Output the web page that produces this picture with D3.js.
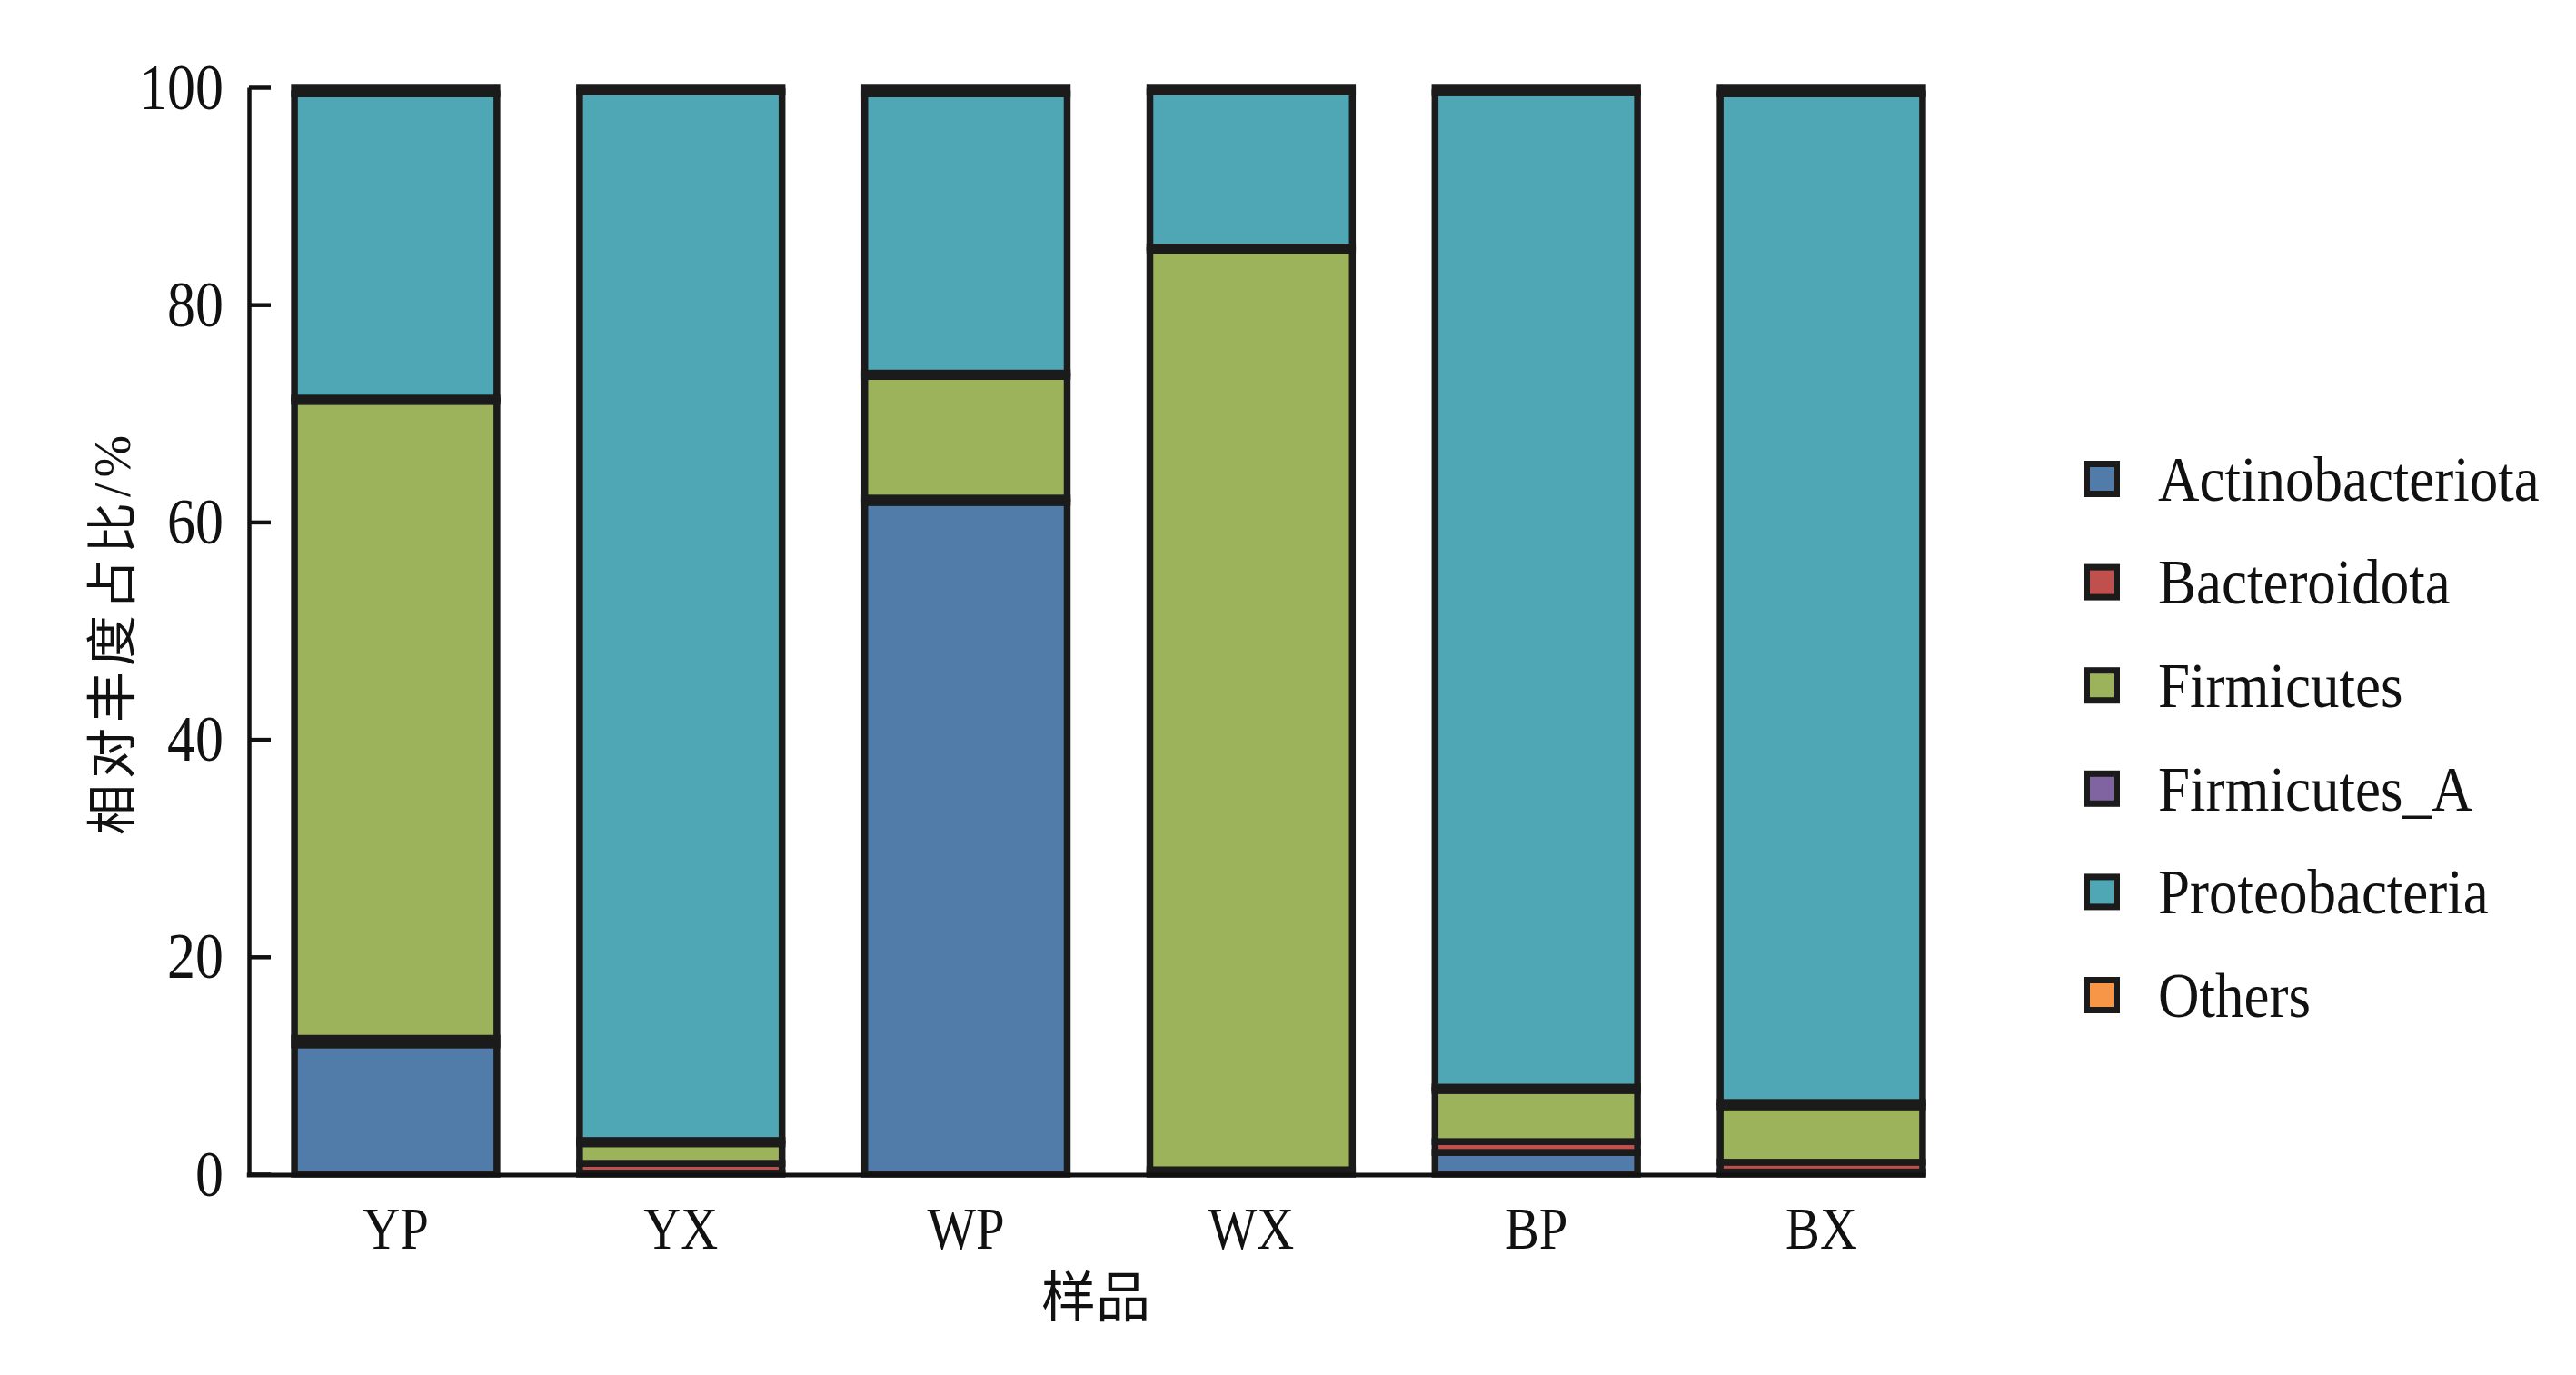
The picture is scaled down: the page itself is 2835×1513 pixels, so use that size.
<!DOCTYPE html>
<html>
<head>
<meta charset="utf-8">
<script src="https://cdn.jsdelivr.net/npm/d3@7/dist/d3.min.js"></script>
<style>
  body { margin: 0; background: #fff; }
  text { fill: #111; }
</style>
</head>
<body>
<div id="chart"></div>
<script>
// samples along the x axis
const samples = ["YP", "YX", "WP", "WX", "BP", "BX"];
// phyla, stacked from the bottom up
const phyla = ["Actinobacteriota", "Bacteroidota", "Firmicutes", "Firmicutes_A", "Proteobacteria", "Others"];
const phylumColors = ["#517ba9", "#c0504d", "#9cb35c", "#8064a2", "#4fa6b5", "#f79646"];

// relative abundance (%) per phylum, one value per sample
const actinobacteriota = [11.9, 0.1, 61.8, 0.1, 2.0, 0.2];
const bacteroidota     = [0.6, 0.9, 0.4, 0.3, 1.0, 0.9];
const firmicutes       = [58.6, 1.8, 11.2, 84.6, 4.7, 5.1];
const firmicutesA      = [0.3, 0.3, 0.3, 0.3, 0.3, 0.4];
const proteobacteria   = [28.0, 96.5, 25.7, 14.3, 91.5, 92.8];
const others           = [0.6, 0.4, 0.6, 0.4, 0.5, 0.6];

const yTicks = [0, 20, 40, 60, 80, 100];

// ======================================================================================================
const W = 2835, H = 1513;
const axisX = 274, y0 = 1292, y100 = 96;
const squeeze = 0.86;   // the source fonts are a bit narrow

const svg = d3.select("#chart").append("svg")
    .attr("width", W)
    .attr("height", H)
    .style("font-family", "'Liberation Serif', 'Times New Roman', 'Noto Sans CJK SC', serif");

// rows for the stack layout
const series = [actinobacteriota, bacteroidota, firmicutes, firmicutesA, proteobacteria, others];
const rows = samples.map((s, i) => {
    let row = {sample: s};
    phyla.forEach((p, j) => { row[p] = series[j][i]; });
    return row;
});
const stacked = d3.stack().keys(phyla)(rows);

const x = d3.scaleBand()
    .domain(samples)
    .range([axisX + 3, 2163])
    .paddingInner(0.29)
    .paddingOuter(0.15);

const y = d3.scaleLinear()
    .domain([0, 100])
    .range([y0, y100]);

const color = d3.scaleOrdinal().domain(phyla).range(phylumColors);

// stacked bars
svg.append("g")
    .selectAll("g")
    .data(stacked)
    .enter()
    .append("g")
    .attr("fill", d => color(d.key))
    .selectAll("rect")
    .data(d => d)
    .enter()
    .append("rect")
    .attr("x", d => x(d.data.sample))
    .attr("y", d => y(d[1]))
    .attr("width", x.bandwidth())
    .attr("height", d => y(d[0]) - y(d[1]))
    .attr("stroke", "#1b1b1b")
    .attr("stroke-width", 7.5);

// y axis, ticks pointing inward
const yAxis = svg.append("g")
    .attr("transform", "translate(" + axisX + ",0)")
    .call(d3.axisLeft(y).tickValues(yTicks).tickSizeInner(-24).tickSizeOuter(0).tickPadding(28));
yAxis.select(".domain").attr("stroke", "#111").attr("stroke-width", 4.5);
yAxis.selectAll(".tick line").attr("stroke", "#111").attr("stroke-width", 4.5);
yAxis.selectAll(".tick text")
    .attr("font-size", 72)
    .attr("font-family", "'Liberation Serif', serif")
    .attr("transform", "scale(" + squeeze + ",1)")
    .attr("x", -28 / squeeze);

// x axis: baseline plus labels only
const lastBand = x(samples[samples.length - 1]) + x.bandwidth();
svg.append("line")
    .attr("x1", axisX - 2.25)
    .attr("x2", lastBand + 3.5)
    .attr("y1", y0 + 1)
    .attr("y2", y0 + 1)
    .attr("stroke", "#111")
    .attr("stroke-width", 5);

const xAxis = svg.append("g")
    .attr("transform", "translate(0," + y0 + ")")
    .call(d3.axisBottom(x).tickSize(0).tickPadding(35));
xAxis.select(".domain").remove();
xAxis.selectAll(".tick text")
    .attr("font-size", 66)
    .attr("font-family", "'Liberation Serif', serif")
    .attr("transform", "scale(" + squeeze + ",1)");

// axis titles
svg.append("text")
    .attr("transform", "translate(124," + ((y0 + y100) / 2 + 2) + ") rotate(-90)")
    .attr("text-anchor", "middle")
    .attr("dominant-baseline", "central")
    .attr("font-size", 56)
    .attr("letter-spacing", 6)
    .text("相对丰度占比/%");

svg.append("text")
    .attr("x", 1206)
    .attr("y", 1449)
    .attr("text-anchor", "middle")
    .attr("font-size", 60)
    .text("样品");

// legend
const legend = svg.append("g")
    .selectAll("g")
    .data(phyla)
    .enter()
    .append("g")
    .attr("transform", (d, i) => "translate(2313," + (527 + i * 113.6) + ")");
legend.append("rect")
    .attr("x", -16.5)
    .attr("y", -16.5)
    .attr("width", 33)
    .attr("height", 33)
    .attr("fill", d => color(d))
    .attr("stroke", "#1b1b1b")
    .attr("stroke-width", 7);
legend.append("text")
    .attr("transform", "translate(62,0) scale(0.9,1)")
    .attr("dy", "0.34em")
    .attr("font-size", 70)
    .text(d => d);
</script>
</body>
</html>
